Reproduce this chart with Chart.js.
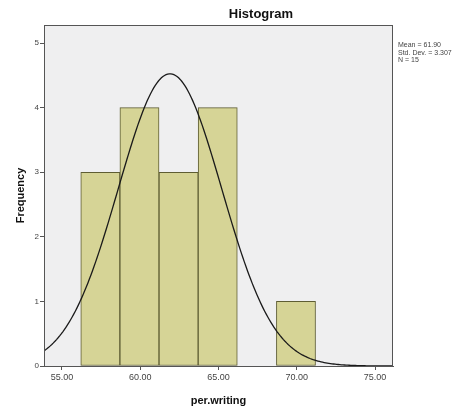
<!DOCTYPE html>
<html>
<head>
<meta charset="utf-8">
<script src="https://cdn.jsdelivr.net/npm/chart.js@4/dist/chart.umd.min.js"></script>
<style>
  html, body { margin: 0; padding: 0; background: #fff; }
  #wrap { width: 467px; height: 408px; }
</style>
</head>
<body>
<div id="wrap"><canvas id="myChart" width="467" height="408"></canvas></div>
<script>
// bin centres (per.writing) and frequencies
const binCenters = [57.45, 59.95, 62.45, 64.95, 67.45, 69.95];
const frequencies = [3, 4, 3, 4, 0, 1];
const binWidth = 2.5;
const xTicks = [55, 60, 65, 70, 75];
const yTicks = [0, 1, 2, 3, 4, 5];
// summary shown on the right
const statMean = 61.90;
const statSd = 3.307;
const statN = 15;
const statLines = ["Mean = 61.90", "Std. Dev. = 3.307", "N = 15"];

const xMin = 53.85, xMax = 76.15;

// fitted normal curve scaled to the histogram
const curve = [];
for (let x = xMin; x <= xMax + 1e-9; x += 0.1) {
  const z = (x - statMean) / statSd;
  const y = statN * binWidth / (statSd * Math.sqrt(2 * Math.PI)) * Math.exp(-0.5 * z * z);
  curve.push({x: x, y: y});
}

const frame = {
  id: 'frame',
  beforeDraw(chart) {
    const {ctx, chartArea: a} = chart;
    ctx.save();
    ctx.fillStyle = '#efeff0';
    ctx.fillRect(a.left, a.top, a.right - a.left, a.bottom - a.top);
    ctx.restore();
  },
  afterDraw(chart) {
    const {ctx, chartArea: a} = chart;
    ctx.save();
    ctx.strokeStyle = '#555';
    ctx.lineWidth = 1;
    ctx.strokeRect(a.left + 0.5, a.top + 0.5, a.right - a.left - 1, a.bottom - a.top);
    // title sits right of centre, as in the SPSS output
    ctx.fillStyle = '#111';
    ctx.font = 'bold 13px Arial, "Liberation Sans", sans-serif';
    ctx.textAlign = 'center';
    ctx.textBaseline = 'middle';
    ctx.fillText('Histogram', 261, 14);
    ctx.textAlign = 'left';
    ctx.fillStyle = '#444';
    ctx.font = '7px Arial, "Liberation Sans", sans-serif';
    ctx.textBaseline = 'top';
    statLines.forEach((t, i) => ctx.fillText(t, a.right + 5, 42 + i * 7.5));
    ctx.restore();
  }
};

new Chart(document.getElementById('myChart'), {
  data: {
    datasets: [{
      type: 'line',
      data: curve,
      borderColor: '#1a1a1a',
      borderWidth: 1.3,
      pointRadius: 0,
      fill: false,
      tension: 0,
      order: 0
    }, {
      type: 'bar',
      data: binCenters.map((c, i) => ({x: c, y: frequencies[i]})),
      backgroundColor: '#d6d496',
      borderColor: '#5e5d33',
      borderWidth: 1,
      borderSkipped: false,
      barPercentage: 1,
      categoryPercentage: 1,
      order: 1
    }]
  },
  options: {
    responsive: false,
    animation: false,
    layout: { padding: { left: 0, right: 74, top: 25, bottom: 0 } },
    plugins: {
      legend: { display: false },
      tooltip: { enabled: false },
      title: { display: false }
    },
    scales: {
      x: {
        type: 'linear',
        offset: false,
        min: xMin,
        max: xMax,
        afterBuildTicks: s => { s.ticks = xTicks.map(v => ({value: v})); },
        afterFit: s => { s.height = 42; },
        grid: { offset: false, drawOnChartArea: false, drawTicks: true, tickLength: 4, color: '#555' },
        border: { color: '#555' },
        ticks: {
          color: '#444',
          padding: 2,
          maxRotation: 0,
          font: { family: 'Arial, "Liberation Sans", sans-serif', size: 9 },
          callback: v => v.toFixed(2)
        },
        title: {
          display: true,
          text: 'per.writing',
          color: '#111',
          padding: { top: 4, bottom: 0 },
          font: { family: 'Arial, "Liberation Sans", sans-serif', size: 11, weight: 'bold' }
        }
      },
      y: {
        min: 0,
        max: 5.28,
        afterBuildTicks: s => { s.ticks = yTicks.map(v => ({value: v})); },
        afterFit: s => { s.width = 44; },
        grid: { drawOnChartArea: false, drawTicks: true, tickLength: 4, color: '#555' },
        border: { color: '#555' },
        ticks: {
          color: '#444',
          padding: 1,
          font: { family: 'Arial, "Liberation Sans", sans-serif', size: 8 }
        },
        title: {
          display: true,
          text: 'Frequency',
          color: '#111',
          padding: { top: 14, bottom: 6 },
          font: { family: 'Arial, "Liberation Sans", sans-serif', size: 11, weight: 'bold' }
        }
      }
    }
  },
  plugins: [frame]
});
</script>
</body>
</html>
